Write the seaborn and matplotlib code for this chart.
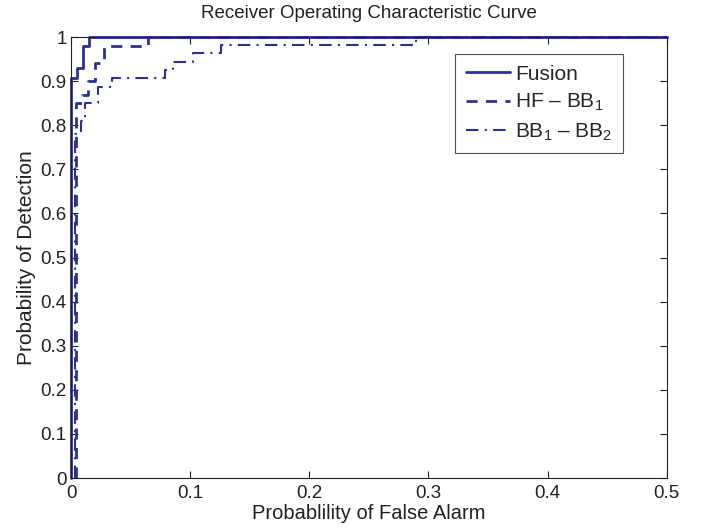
import matplotlib
matplotlib.use("Agg")
import matplotlib.pyplot as plt
import seaborn as sns
import numpy as np

sns.set_theme(style="white")
plt.rcParams['font.family'] = ['Liberation Sans', 'DejaVu Sans']
plt.rcParams['mathtext.fontset'] = 'custom'
plt.rcParams['mathtext.rm'] = 'Liberation Sans'
plt.rcParams['mathtext.it'] = 'Liberation Sans'

# ROC step data
fusion_fa = [0, 0, 0.005, 0.005, 0.010, 0.010, 0.015, 0.015, 0.5]
fusion_pd = [0, 0.907, 0.907, 0.930, 0.930, 0.980, 0.980, 1.0, 1.0]

hf_fa = [0.004, 0.004, 0.009, 0.009, 0.014, 0.014, 0.020, 0.020, 0.028, 0.028, 0.065, 0.065, 0.5]
hf_pd = [0, 0.850, 0.850, 0.868, 0.868, 0.900, 0.900, 0.940, 0.940, 0.980, 0.980, 1.0, 1.0]

bb_fa = [0.003, 0.003, 0.008, 0.008, 0.012, 0.012, 0.023, 0.023, 0.034, 0.034, 0.079, 0.079,
         0.086, 0.086, 0.102, 0.102, 0.126, 0.126, 0.290, 0.290, 0.5]
bb_pd = [0, 0.780, 0.780, 0.810, 0.810, 0.850, 0.850, 0.887, 0.887, 0.907, 0.907, 0.925,
         0.925, 0.944, 0.944, 0.963, 0.963, 0.982, 0.982, 1.0, 1.0]

labels = ['Fusion', 'HF \u2013 BB$_1$', 'BB$_1$ \u2013 BB$_2$']
xticks = [0, 0.1, 0.2, 0.3, 0.4, 0.5]
yticks = [0, 0.1, 0.2, 0.3, 0.4, 0.5, 0.6, 0.7, 0.8, 0.9, 1]

color = '#2e3192'
ink = '#222222'

fig = plt.figure(figsize=(7.04, 5.31), dpi=100)
ax = fig.add_axes([0.1009, 0.0998, 0.846, 0.8305])

sns.lineplot(x=fusion_fa, y=fusion_pd, sort=False, estimator=None, ax=ax,
             color=color, lw=2, linestyle='-', label=labels[0], clip_on=False)
sns.lineplot(x=hf_fa, y=hf_pd, sort=False, estimator=None, ax=ax,
             color=color, lw=2, linestyle=(0, (4, 3)), label=labels[1], clip_on=False)
sns.lineplot(x=bb_fa, y=bb_pd, sort=False, estimator=None, ax=ax,
             color=color, lw=1.5, linestyle=(0, (6, 3, 1, 3)), label=labels[2], clip_on=False)

ax.set_xlim(0, 0.5)
ax.set_ylim(0, 1)
ax.set_xticks(xticks)
ax.set_xticklabels([f'{t:g}' for t in xticks])
ax.set_yticks(yticks)
ax.set_yticklabels([f'{t:g}' for t in yticks])
ax.tick_params(direction='in', length=5, width=0.8, colors=ink, labelsize=13.5,
               top=True, right=True, bottom=True, left=True)
ax.tick_params(axis='x', pad=5)
ax.tick_params(axis='y', pad=3)
for s in ax.spines.values():
    s.set_color(ink)
    s.set_linewidth(0.8)

ax.set_title('Receiver Operating Characteristic Curve', fontsize=13.5, color=ink, pad=14)
ax.set_xlabel('Probablility of False Alarm', fontsize=14.5, color=ink, labelpad=1.5)
ax.set_ylabel('Probability of Detection', fontsize=15, color=ink, labelpad=3)

leg = ax.legend(loc='upper right', bbox_to_anchor=(0.926, 0.961), fontsize=15, frameon=True,
                fancybox=False, edgecolor=ink, handlelength=2.1, handletextpad=0.25,
                borderpad=0.5, labelspacing=0.4, borderaxespad=0)
leg.get_frame().set_linewidth(0.8)

fig.savefig('out.png', dpi=100, facecolor='white')
